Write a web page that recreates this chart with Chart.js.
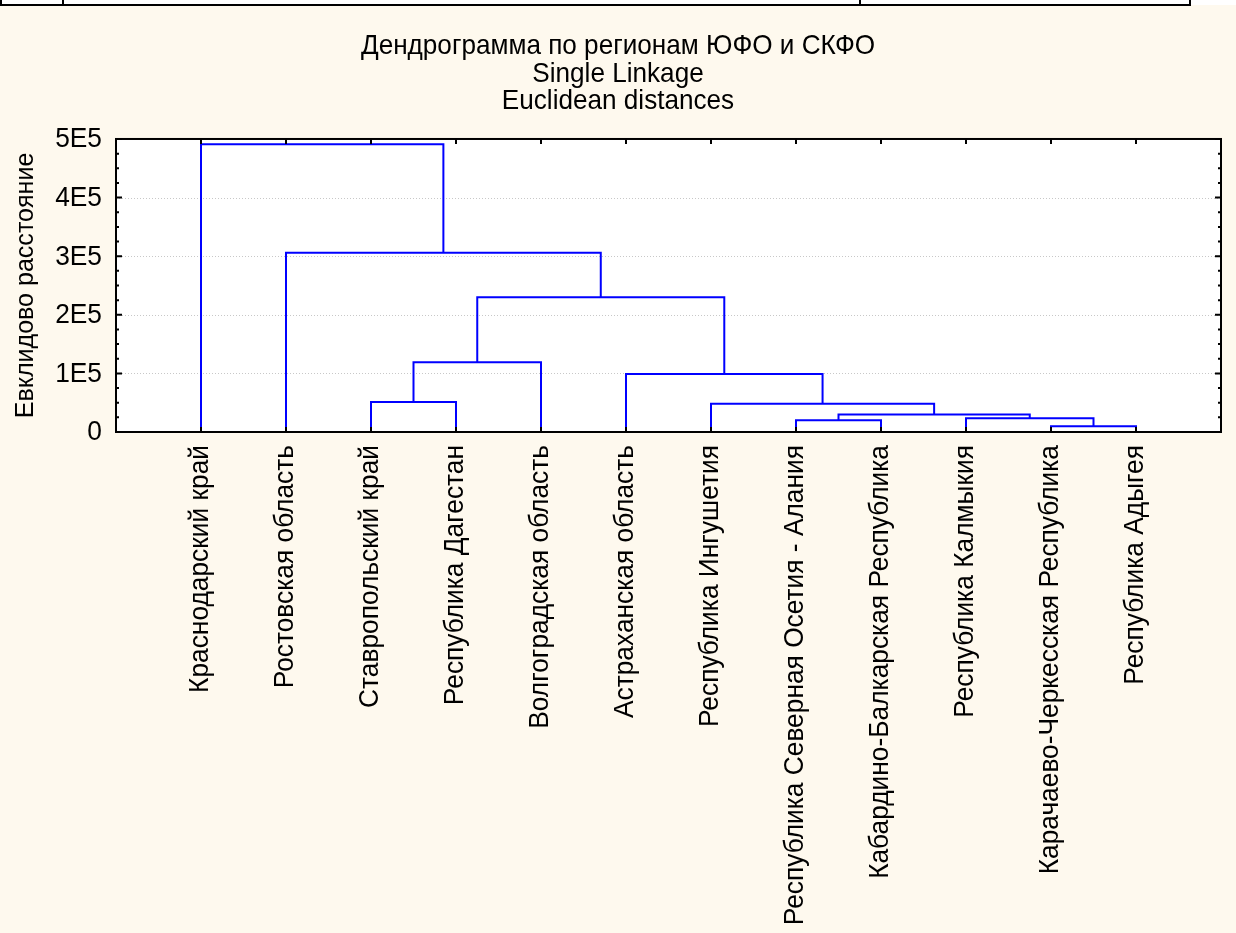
<!DOCTYPE html>
<html>
<head>
<meta charset="utf-8">
<script src="https://cdn.jsdelivr.net/npm/chart.js@4.4.1/dist/chart.umd.min.js"></script>
<style>
html,body{margin:0;padding:0;background:#FEF9EE;}
#wrap{position:relative;width:1236px;height:933px;overflow:hidden;}
#c{position:absolute;left:0;top:0;}
.strip{position:absolute;left:0;top:0;width:1236px;height:5px;background:#fff;}
.hl{position:absolute;left:0;top:4px;width:1191px;height:2px;background:#000;}
.vl{position:absolute;top:0;width:2px;height:5px;background:#000;}
</style>
</head>
<body>
<div id="wrap">
<canvas id="c" width="1236" height="933"></canvas>
<div class="strip"></div>
<div class="hl"></div>
<div class="vl" style="left:0"></div>
<div class="vl" style="left:62px"></div>
<div class="vl" style="left:859px"></div>
<div class="vl" style="left:1189px"></div>
</div>
<script>
// ---- data ----
const categories = [
  'Краснодарский край',
  'Ростовская область',
  'Ставропольский край',
  'Республика Дагестан',
  'Волгоградская область',
  'Астраханская область',
  'Республика Ингушетия',
  'Республика Северная Осетия - Алания',
  'Кабардино-Балкарская Республика',
  'Республика Калмыкия',
  'Карачаево-Черкесская Республика',
  'Республика Адыгея'
];
// merges (scipy style: id < 12 = leaf, id >= 12 = merge number id-12)
const linkA = [10, 7, 9, 13, 6, 5, 2, 18, 19, 1, 0];
const linkB = [11, 8, 12, 14, 15, 16, 3, 4, 17, 20, 21];
const linkHeight = [10000, 20000, 23500, 30000, 48000, 99000, 51000, 119000, 230000, 306000, 491000];
const yTickValues = [0, 100000, 200000, 300000, 400000, 500000];
const yTickLabels = ['0', '1E5', '2E5', '3E5', '4E5', '5E5'];
const titleLines = ['Дендрограмма по регионам ЮФО и СКФО', 'Single Linkage', 'Euclidean distances'];
const yAxisTitle = 'Евклидово расстояние';

// ---- build ----
const FONT = "'Liberation Sans', Arial, sans-serif";
const TITLE_SIZE = 27.5, TICK_SIZE = 27, YTITLE_SIZE = 26.5;
// slight along-text compression per font size
const SX = { '27.5': 0.95, '27': 0.975, '26.5': 0.945 };

const canvas = document.getElementById('c');
const ctx2 = canvas.getContext('2d');
const origFill = ctx2.fillText;
ctx2.fillText = function (t, x, y, mw) {
  const m = /([\d.]+)px/.exec(this.font);
  const s = m ? (SX[m[1]] || 1) : 1;
  if (s === 1) {
    return (mw === undefined) ? origFill.call(this, t, x, y) : origFill.call(this, t, x, y, mw);
  }
  this.save();
  this.translate(x, y);
  this.scale(s, 1);
  if (mw === undefined) origFill.call(this, t, 0, 0); else origFill.call(this, t, 0, 0, mw / s);
  this.restore();
};

const n = categories.length;
const nodeX = [], nodeH = [];
for (let i = 0; i < n; i++) { nodeX[i] = i + 1; nodeH[i] = 0; }
const datasets = linkA.map((a, k) => {
  const b = linkB[k], h = linkHeight[k];
  nodeX[n + k] = (nodeX[a] + nodeX[b]) / 2;
  nodeH[n + k] = h;
  return {
    data: [{x: nodeX[a], y: nodeH[a]}, {x: nodeX[a], y: h}, {x: nodeX[b], y: h}, {x: nodeX[b], y: nodeH[b]}],
    borderColor: '#0000FF', borderWidth: 2, pointRadius: 0, showLine: true, fill: false, tension: 0
  };
});

const frame = {
  id: 'frame',
  beforeDraw(c) {
    const ctx = c.ctx, a = c.chartArea, y = c.scales.y;
    ctx.save();
    ctx.fillStyle = '#FEF9EE';
    ctx.fillRect(0, 0, c.width, c.height);
    ctx.fillStyle = '#FFFFFF';
    ctx.fillRect(a.left, a.top, a.right - a.left, a.bottom - a.top);
    ctx.strokeStyle = '#C8C8C8';
    ctx.lineWidth = 1;
    ctx.setLineDash([1, 2]);
    yTickValues.forEach(v => {
      if (v <= y.min || v >= y.max) return;
      const p = Math.round(y.getPixelForValue(v)) + 0.5;
      ctx.beginPath(); ctx.moveTo(a.left, p); ctx.lineTo(a.right, p); ctx.stroke();
    });
    ctx.restore();
  },
  afterDraw(c) {
    const ctx = c.ctx, a = c.chartArea, y = c.scales.y, x = c.scales.x;
    ctx.save();
    ctx.strokeStyle = '#000';
    ctx.lineWidth = 2;
    const major = yTickValues[1] - yTickValues[0];
    const minor = major / 4;
    ctx.beginPath();
    for (let v = y.min; v <= y.max + 1; v += minor) {
      const p = y.getPixelForValue(v);
      const len = (Math.abs(v / major - Math.round(v / major)) < 1e-6) ? 6 : 3;
      ctx.moveTo(a.left, p); ctx.lineTo(a.left + len, p);
      ctx.moveTo(a.right, p); ctx.lineTo(a.right - len, p);
    }
    categories.forEach((_, i) => {
      const p = x.getPixelForValue(i + 1);
      ctx.moveTo(p, a.top); ctx.lineTo(p, a.top + 5);
      ctx.moveTo(p, a.bottom); ctx.lineTo(p, a.bottom - 5);
    });
    ctx.stroke();
    ctx.strokeRect(a.left, a.top, a.right - a.left, a.bottom - a.top);
    ctx.restore();
  }
};

new Chart(canvas, {
  type: 'scatter',
  data: { datasets },
  plugins: [frame],
  options: {
    responsive: false,
    animation: false,
    devicePixelRatio: 1,
    layout: { padding: { left: 0, right: 0, top: 0, bottom: 0 } },
    plugins: {
      legend: { display: false },
      tooltip: { enabled: false },
      title: {
        display: true, text: titleLines, color: '#000',
        font: { size: TITLE_SIZE, family: FONT, weight: 'normal', lineHeight: 27.56 / TITLE_SIZE },
        padding: { top: 33, bottom: 23.3 }
      }
    },
    scales: {
      x: {
        type: 'linear', min: 0, max: n + 1,
        afterBuildTicks: s => { s.ticks = categories.map((_, i) => ({ value: i + 1 })); },
        ticks: {
          autoSkip: false, minRotation: 90, maxRotation: 90, padding: 13, color: '#000',
          font: { size: TICK_SIZE, family: FONT },
          callback: v => categories[v - 1]
        },
        grid: { display: false, drawTicks: false },
        border: { display: false },
        afterFit: s => { s.height = 933 - 432; }
      },
      y: {
        type: 'linear', min: 0, max: 500000,
        afterBuildTicks: s => { s.ticks = yTickValues.map(v => ({ value: v })); },
        ticks: {
          color: '#000', padding: 14, labelOffset: 1, font: { size: TICK_SIZE, family: FONT },
          callback: v => yTickLabels[yTickValues.indexOf(v)]
        },
        grid: { display: false, drawTicks: false },
        border: { display: false },
        title: { display: true, text: yAxisTitle, color: '#000', font: { size: YTITLE_SIZE, family: FONT }, padding: { top: 10, bottom: 0 } },
        afterFit: s => { s.width = 116; }
      },
      yRight: {
        type: 'linear', position: 'right', display: true, min: 0, max: 1,
        ticks: { display: false },
        grid: { display: false, drawTicks: false },
        border: { display: false },
        afterFit: s => { s.width = 15; }
      }
    }
  }
});
</script>
</body>
</html>
